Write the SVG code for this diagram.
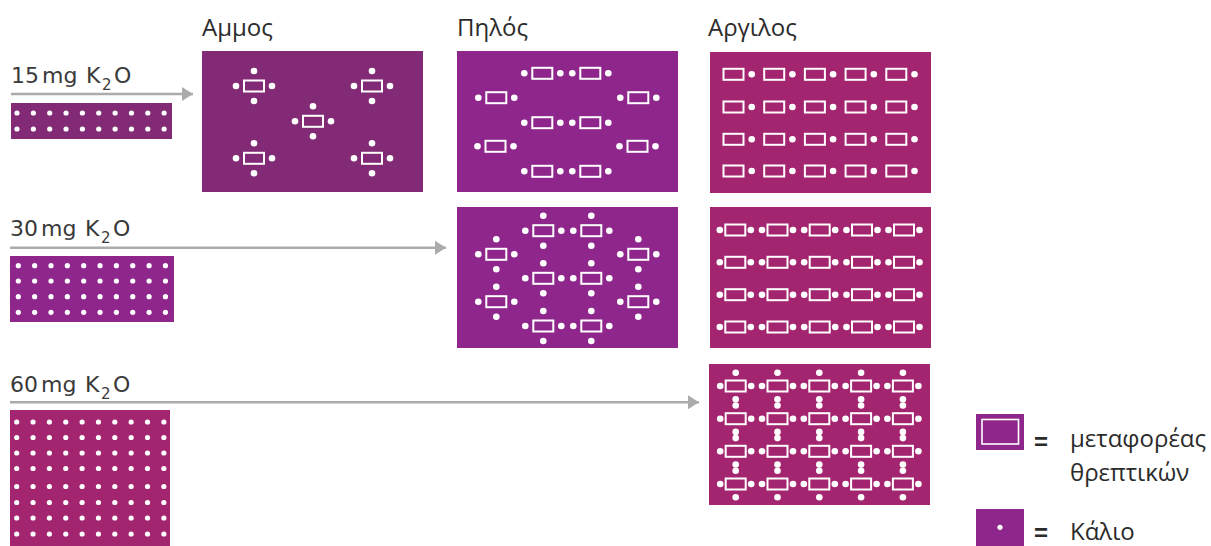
<svg xmlns="http://www.w3.org/2000/svg" xmlns:xlink="http://www.w3.org/1999/xlink" width="1211" height="546" viewBox="0 0 1211 546">
<style>
.hdr{font-family:"Open Sans","Liberation Sans",sans-serif;font-size:24px;fill:#2b2b2b}
.lbl{font-family:"DejaVu Sans","Liberation Sans",sans-serif;font-size:22px;fill:#3a3a3a}
.sub{font-size:15px}
.leg{font-family:"Open Sans","Liberation Sans",sans-serif;font-size:24px;fill:#2b2b2b}
.eq{font-family:"Liberation Sans",Arial,sans-serif;font-size:24px;font-weight:bold;fill:#2b2b2b}
.c1{fill:#822a75}.c2{fill:#8e268c}.c3{fill:#a32570}
.arr{stroke:#ababab;stroke-width:2.6;fill:none}
.car{fill:none;stroke:#fff;stroke-width:2}
</style>
<defs>
<marker id="ah" markerUnits="userSpaceOnUse" markerWidth="12" markerHeight="16" refX="11" refY="8" orient="auto">
<path d="M0,1 L11,8 L0,15 Z" fill="#ababab"/>
</marker>
<circle id="d" r="2.6" fill="#fff"/>
<circle id="D" r="3.3" fill="#fff"/>
<rect id="c" class="car" x="-10" y="-5.5" width="20" height="11"/>
<g id="row"><use href="#d" x="0"/><use href="#d" x="16.35"/><use href="#d" x="32.7"/><use href="#d" x="49.05"/><use href="#d" x="65.4"/><use href="#d" x="81.75"/><use href="#d" x="98.1"/><use href="#d" x="114.45"/><use href="#d" x="130.8"/><use href="#d" x="147.15"/></g>
<g id="u4"><use href="#c"/><use href="#D" x="-18"/><use href="#D" x="18"/><use href="#D" y="-15"/><use href="#D" y="15"/></g>
<g id="u2"><use href="#c"/><use href="#D" x="-18"/><use href="#D" x="18"/></g>
<g id="ur"><use href="#c"/><use href="#D" x="18.2"/></g>
<g id="u2b"><use href="#c"/><use href="#D" x="-15.5"/><use href="#D" x="15.5"/></g>
<g id="u4b"><use href="#c"/><use href="#D" x="-15.5"/><use href="#D" x="15.5"/><use href="#D" y="-13.2"/><use href="#D" y="13.2"/></g>
</defs>
<rect width="1211" height="546" fill="#fff"/>

<g id="headers">
<text class="hdr" x="202" y="36">Αμμος</text>
<text class="hdr" x="457" y="36">Πηλός</text>
<text class="hdr" x="708" y="36">Αργιλος</text>
</g>

<g id="connectors">
<line class="arr" x1="11" y1="94" x2="193" y2="94" marker-end="url(#ah)"/>
<line class="arr" x1="10" y1="247.7" x2="446" y2="247.7" marker-end="url(#ah)"/>
<line class="arr" x1="10" y1="402.3" x2="699" y2="402.3" marker-end="url(#ah)"/>
</g>

<g id="dose15">
<text class="lbl" x="11" y="83">15<tspan x="42">mg</tspan><tspan x="86">K</tspan><tspan class="sub" x="102" y="90">2</tspan><tspan x="114" y="83">O</tspan></text>
<rect class="c1" x="11" y="103" width="161" height="36"/>
<use href="#row" x="17" y="113"/><use href="#row" x="17" y="129"/>
</g>

<g id="dose30">
<text class="lbl" x="10" y="235.7">30<tspan x="41">mg</tspan><tspan x="85">K</tspan><tspan class="sub" x="101" y="242.7">2</tspan><tspan x="113" y="235.7">O</tspan></text>
<rect class="c2" x="10" y="256" width="164" height="66"/>
<use href="#row" x="18.3" y="265.7"/><use href="#row" x="18.3" y="281"/><use href="#row" x="18.3" y="296.7"/><use href="#row" x="18.3" y="312.3"/>
</g>

<g id="dose60">
<text class="lbl" x="10" y="391.7">60<tspan x="41">mg</tspan><tspan x="85">K</tspan><tspan class="sub" x="101" y="398.7">2</tspan><tspan x="113" y="391.7">O</tspan></text>
<rect class="c3" x="10" y="410" width="160" height="136"/>
<use href="#row" x="16.7" y="422"/><use href="#row" x="16.7" y="437.5"/><use href="#row" x="16.7" y="453"/><use href="#row" x="16.7" y="468.5"/><use href="#row" x="16.7" y="486.5"/><use href="#row" x="16.7" y="502.5"/><use href="#row" x="16.7" y="518"/><use href="#row" x="16.7" y="534"/>
</g>

<g id="sand15">
<rect class="c1" x="202" y="51" width="221" height="141"/>
<use href="#u4" x="254" y="86"/><use href="#u4" x="372" y="86"/><use href="#u4" x="313" y="121.3"/><use href="#u4" x="254" y="158.3"/><use href="#u4" x="372" y="158.3"/>
</g>

<g id="loam15">
<rect class="c2" x="457" y="51" width="221" height="141"/>
<use href="#u2" x="542.3" y="73.3"/><use href="#u2" x="590.3" y="73.3"/>
<use href="#u2" x="496.3" y="97.7"/><use href="#u2" x="638.3" y="97.7"/>
<use href="#u2" x="542.3" y="122.7"/><use href="#u2" x="590.3" y="122.7"/>
<use href="#u2" x="495.5" y="146.3"/><use href="#u2" x="637.5" y="146.3"/>
<use href="#u2" x="542.3" y="171.3"/><use href="#u2" x="590.3" y="171.3"/>
</g>

<g id="loam30">
<rect class="c2" x="457" y="207" width="221" height="141"/>
<use href="#u4" x="543.3" y="230.7"/><use href="#u4" x="591.3" y="230.7"/>
<use href="#u4" x="496.3" y="254.3"/><use href="#u4" x="638.3" y="254.3"/>
<use href="#u4" x="543.3" y="278.3"/><use href="#u4" x="591.3" y="278.3"/>
<use href="#u4" x="496.3" y="301.7"/><use href="#u4" x="638.3" y="301.7"/>
<use href="#u4" x="543.3" y="326"/><use href="#u4" x="591.3" y="326"/>
</g>

<g id="clay15">
<rect class="c3" x="710" y="52" width="221" height="141"/>
<use href="#ur" x="733.5" y="74.3"/><use href="#ur" x="774.2" y="74.3"/><use href="#ur" x="814.9" y="74.3"/><use href="#ur" x="855.6" y="74.3"/><use href="#ur" x="896.3" y="74.3"/>
<use href="#ur" x="733.5" y="107"/><use href="#ur" x="774.2" y="107"/><use href="#ur" x="814.9" y="107"/><use href="#ur" x="855.6" y="107"/><use href="#ur" x="896.3" y="107"/>
<use href="#ur" x="733.5" y="139.3"/><use href="#ur" x="774.2" y="139.3"/><use href="#ur" x="814.9" y="139.3"/><use href="#ur" x="855.6" y="139.3"/><use href="#ur" x="896.3" y="139.3"/>
<use href="#ur" x="733.5" y="171"/><use href="#ur" x="774.2" y="171"/><use href="#ur" x="814.9" y="171"/><use href="#ur" x="855.6" y="171"/><use href="#ur" x="896.3" y="171"/>
</g>

<g id="clay30">
<rect class="c3" x="710" y="207" width="221" height="141"/>
<use href="#u2b" x="735.3" y="230"/><use href="#u2b" x="777.5" y="230"/><use href="#u2b" x="819.7" y="230"/><use href="#u2b" x="862" y="230"/><use href="#u2b" x="904" y="230"/>
<use href="#u2b" x="735.3" y="262.3"/><use href="#u2b" x="777.5" y="262.3"/><use href="#u2b" x="819.7" y="262.3"/><use href="#u2b" x="862" y="262.3"/><use href="#u2b" x="904" y="262.3"/>
<use href="#u2b" x="735.3" y="294.7"/><use href="#u2b" x="777.5" y="294.7"/><use href="#u2b" x="819.7" y="294.7"/><use href="#u2b" x="862" y="294.7"/><use href="#u2b" x="904" y="294.7"/>
<use href="#u2b" x="735.3" y="327"/><use href="#u2b" x="777.5" y="327"/><use href="#u2b" x="819.7" y="327"/><use href="#u2b" x="862" y="327"/><use href="#u2b" x="904" y="327"/>
</g>

<g id="clay60">
<rect class="c3" x="709" y="364" width="221" height="141"/>
<use href="#u4b" x="735.7" y="386"/><use href="#u4b" x="777.5" y="386"/><use href="#u4b" x="819.3" y="386"/><use href="#u4b" x="861.1" y="386"/><use href="#u4b" x="902.9" y="386"/>
<use href="#u4b" x="735.7" y="418.7"/><use href="#u4b" x="777.5" y="418.7"/><use href="#u4b" x="819.3" y="418.7"/><use href="#u4b" x="861.1" y="418.7"/><use href="#u4b" x="902.9" y="418.7"/>
<use href="#u4b" x="735.7" y="451.3"/><use href="#u4b" x="777.5" y="451.3"/><use href="#u4b" x="819.3" y="451.3"/><use href="#u4b" x="861.1" y="451.3"/><use href="#u4b" x="902.9" y="451.3"/>
<use href="#u4b" x="735.7" y="484"/><use href="#u4b" x="777.5" y="484"/><use href="#u4b" x="819.3" y="484"/><use href="#u4b" x="861.1" y="484"/><use href="#u4b" x="902.9" y="484"/>
</g>

<g id="legend-carrier">
<rect class="c2" x="976" y="414" width="48" height="36"/>
<rect x="982" y="419.5" width="36.5" height="24.5" fill="none" stroke="#fff" stroke-width="1.6"/>
<text class="eq" x="1034" y="450">=</text>
<text class="leg" x="1070" y="447">μεταφορέας</text>
<text class="leg" x="1070" y="481">θρεπτικών</text>
</g>

<g id="legend-potassium">
<rect class="c2" x="976" y="509" width="48" height="37"/>
<circle cx="1000" cy="527.3" r="2.6" fill="#fff"/>
<text class="eq" x="1034" y="541">=</text>
<text class="leg" x="1070" y="540">Κάλιο</text>
</g>
</svg>
